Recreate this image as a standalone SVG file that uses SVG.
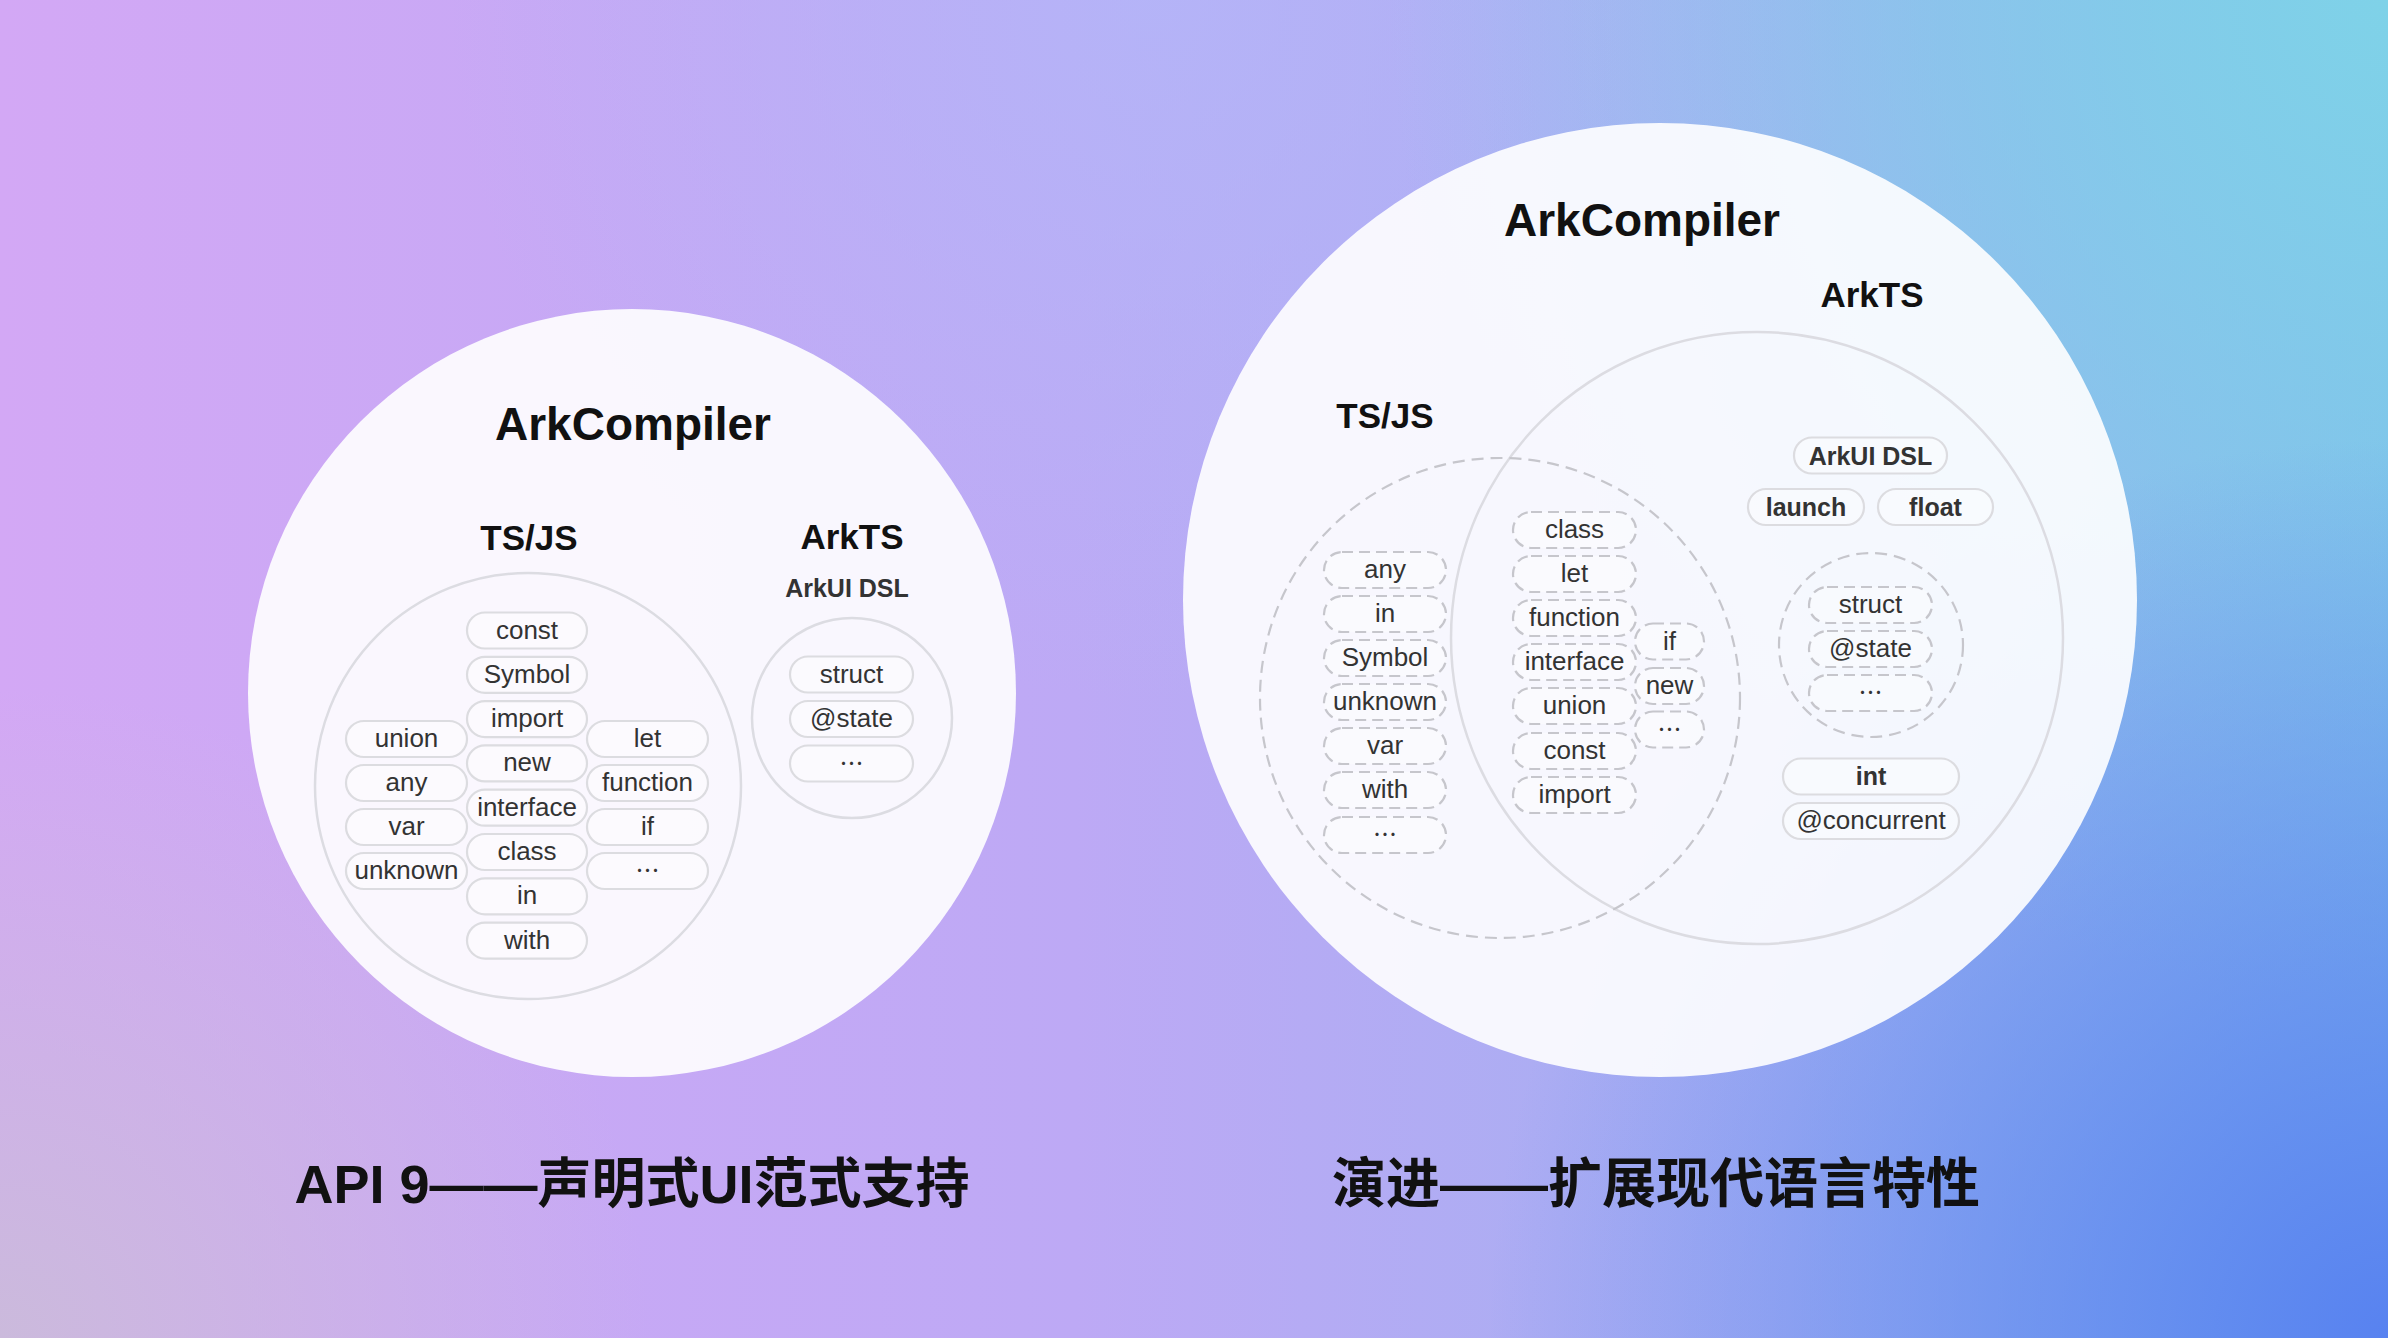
<svg xmlns="http://www.w3.org/2000/svg" width="2388" height="1338" viewBox="0 0 2388 1338">
<defs>
<linearGradient id="bg" x1="0" y1="0" x2="1" y2="0">
<stop offset="0" stop-color="#d3a8f5"/>
<stop offset="0.45" stop-color="#bda9f5"/>
<stop offset="0.75" stop-color="#a4aff2"/>
<stop offset="1" stop-color="#82b8ec"/>
</linearGradient>
<radialGradient id="tr" cx="2388" cy="0" r="1000" gradientUnits="userSpaceOnUse">
<stop offset="0" stop-color="#7fd2e8" stop-opacity="1"/>
<stop offset="1" stop-color="#7fd2e8" stop-opacity="0"/>
</radialGradient>
<radialGradient id="br" cx="2388" cy="1338" r="900" gradientUnits="userSpaceOnUse">
<stop offset="0" stop-color="#5882f0" stop-opacity="1"/>
<stop offset="1" stop-color="#5882f0" stop-opacity="0"/>
</radialGradient>
<radialGradient id="bl" cx="0" cy="1338" r="650" gradientUnits="userSpaceOnUse">
<stop offset="0" stop-color="#cbbadc" stop-opacity="1"/>
<stop offset="1" stop-color="#cbbadc" stop-opacity="0"/>
</radialGradient>
<radialGradient id="tm" cx="1150" cy="0" r="700" gradientUnits="userSpaceOnUse">
<stop offset="0" stop-color="#b3b6f8" stop-opacity="0.8"/>
<stop offset="1" stop-color="#b3b6f8" stop-opacity="0"/>
</radialGradient>
<style>
.big{fill:#ffffff;fill-opacity:0.9}
.ring{fill:none;stroke:#dcdce2;stroke-width:2.5}
.dring{fill:none;stroke:#c6c6cc;stroke-width:2.2;stroke-dasharray:12 7}
.pill{fill:#ffffff;fill-opacity:0.35;stroke:#dcdce0;stroke-width:2.2}
.dpill{fill:#ffffff;fill-opacity:0.35;stroke:#c6c6cc;stroke-width:2.2;stroke-dasharray:11 6}
.t{font-family:"Liberation Sans",Arial,"Noto Sans CJK SC",sans-serif;font-size:26px;fill:#333;text-anchor:middle}
.tb{font-family:"Liberation Sans",Arial,sans-serif;font-size:25px;font-weight:bold;fill:#333;text-anchor:middle}
.dots{font-family:"Noto Sans CJK SC",sans-serif;font-size:24px;fill:#333;text-anchor:middle}
.h1{font-family:"Liberation Sans",Arial,sans-serif;font-size:46px;font-weight:bold;fill:#111;text-anchor:middle}
.h2{font-family:"Liberation Sans",Arial,sans-serif;font-size:35px;font-weight:bold;fill:#111;text-anchor:middle}
.cap{font-family:"Liberation Sans","Noto Sans CJK SC",sans-serif;font-size:54px;font-weight:bold;fill:#111;text-anchor:middle}
</style>
</defs>
<rect width="2388" height="1338" fill="url(#bg)"/>
<rect width="2388" height="1338" fill="url(#tm)"/>
<rect width="2388" height="1338" fill="url(#tr)"/>
<rect width="2388" height="1338" fill="url(#br)"/>
<rect width="2388" height="1338" fill="url(#bl)"/>

<g id="left-diagram">
<circle id="left-arkcompiler" class="big" cx="632" cy="693" r="384"/>
<text class="h1" x="633" y="440">ArkCompiler</text>
<g id="left-tsjs">
<circle class="ring" cx="528" cy="786" r="213"/>
<text class="h2" x="529" y="550">TS/JS</text>
<rect class="pill" x="467" y="612.5" width="120" height="36" rx="18"/><text class="t" x="527" y="638.5">const</text>
<rect class="pill" x="467" y="656.8" width="120" height="36" rx="18"/><text class="t" x="527" y="682.8">Symbol</text>
<rect class="pill" x="467" y="701.1" width="120" height="36" rx="18"/><text class="t" x="527" y="727.1">import</text>
<rect class="pill" x="467" y="745.4" width="120" height="36" rx="18"/><text class="t" x="527" y="771.4">new</text>
<rect class="pill" x="467" y="789.7" width="120" height="36" rx="18"/><text class="t" x="527" y="815.7">interface</text>
<rect class="pill" x="467" y="834" width="120" height="36" rx="18"/><text class="t" x="527" y="860">class</text>
<rect class="pill" x="467" y="878.3" width="120" height="36" rx="18"/><text class="t" x="527" y="904.3">in</text>
<rect class="pill" x="467" y="922.6" width="120" height="36" rx="18"/><text class="t" x="527" y="948.6">with</text>
<rect class="pill" x="346" y="721" width="121" height="36" rx="18"/><text class="t" x="406.5" y="747">union</text>
<rect class="pill" x="346" y="765" width="121" height="36" rx="18"/><text class="t" x="406.5" y="791">any</text>
<rect class="pill" x="346" y="809" width="121" height="36" rx="18"/><text class="t" x="406.5" y="835">var</text>
<rect class="pill" x="346" y="853" width="121" height="36" rx="18"/><text class="t" x="406.5" y="879">unknown</text>
<rect class="pill" x="587" y="721" width="121" height="36" rx="18"/><text class="t" x="647.5" y="747">let</text>
<rect class="pill" x="587" y="765" width="121" height="36" rx="18"/><text class="t" x="647.5" y="791">function</text>
<rect class="pill" x="587" y="809" width="121" height="36" rx="18"/><text class="t" x="647.5" y="835">if</text>
<rect class="pill" x="587" y="853" width="121" height="36" rx="18"/><text class="dots" x="647.5" y="879">…</text>
</g>
<g id="left-arkts">
<text class="h2" x="852" y="549">ArkTS</text>
<text class="tb" x="847" y="597">ArkUI DSL</text>
<circle class="ring" cx="852" cy="718" r="100"/>
<rect class="pill" x="790" y="656.5" width="123" height="36" rx="18"/><text class="t" x="851.5" y="682.5">struct</text>
<rect class="pill" x="790" y="701" width="123" height="36" rx="18"/><text class="t" x="851.5" y="727">@state</text>
<rect class="pill" x="790" y="745.5" width="123" height="36" rx="18"/><text class="dots" x="851.5" y="771.5">…</text>
</g>
</g>

<g id="right-diagram">
<circle id="right-arkcompiler" class="big" cx="1660" cy="600" r="477"/>
<text class="h1" x="1642" y="236">ArkCompiler</text>
<g id="right-arkts">
<circle class="ring" cx="1757" cy="638" r="306"/>
<text class="h2" x="1872" y="307">ArkTS</text>
<rect class="pill" x="1794" y="437.5" width="153" height="36" rx="18"/><text class="tb" x="1870.5" y="465">ArkUI DSL</text>
<rect class="pill" x="1748" y="489" width="116" height="36" rx="18"/><text class="tb" x="1806" y="516">launch</text>
<rect class="pill" x="1878" y="489" width="115" height="36" rx="18"/><text class="tb" x="1935.5" y="516">float</text>
<circle class="dring" cx="1871" cy="645" r="92"/>
<rect class="dpill" x="1809" y="587" width="123" height="36" rx="18"/><text class="t" x="1870.5" y="613">struct</text>
<rect class="dpill" x="1809" y="631" width="123" height="36" rx="18"/><text class="t" x="1870.5" y="657">@state</text>
<rect class="dpill" x="1809" y="675" width="123" height="36" rx="18"/><text class="dots" x="1870.5" y="701">…</text>
<rect class="pill" x="1783" y="758.5" width="176" height="36" rx="18"/><text class="tb" x="1871" y="785">int</text>
<rect class="pill" x="1783" y="803" width="176" height="36" rx="18"/><text class="t" x="1871" y="829">@concurrent</text>
</g>
<g id="right-tsjs">
<circle class="dring" cx="1500" cy="698" r="240"/>
<text class="h2" x="1385" y="428">TS/JS</text>
<rect class="dpill" x="1324" y="552" width="122" height="36" rx="18"/><text class="t" x="1385" y="578">any</text>
<rect class="dpill" x="1324" y="596" width="122" height="36" rx="18"/><text class="t" x="1385" y="622">in</text>
<rect class="dpill" x="1324" y="640" width="122" height="36" rx="18"/><text class="t" x="1385" y="666">Symbol</text>
<rect class="dpill" x="1324" y="684" width="122" height="36" rx="18"/><text class="t" x="1385" y="710">unknown</text>
<rect class="dpill" x="1324" y="728" width="122" height="36" rx="18"/><text class="t" x="1385" y="754">var</text>
<rect class="dpill" x="1324" y="772" width="122" height="36" rx="18"/><text class="t" x="1385" y="798">with</text>
<rect class="dpill" x="1324" y="817" width="122" height="36" rx="18"/><text class="dots" x="1385" y="843">…</text>
</g>
<g id="right-shared">
<rect class="dpill" x="1513" y="512" width="123" height="36" rx="18"/><text class="t" x="1574.5" y="538">class</text>
<rect class="dpill" x="1513" y="556" width="123" height="36" rx="18"/><text class="t" x="1574.5" y="582">let</text>
<rect class="dpill" x="1513" y="600" width="123" height="36" rx="18"/><text class="t" x="1574.5" y="626">function</text>
<rect class="dpill" x="1513" y="644" width="123" height="36" rx="18"/><text class="t" x="1574.5" y="670">interface</text>
<rect class="dpill" x="1513" y="688" width="123" height="36" rx="18"/><text class="t" x="1574.5" y="714">union</text>
<rect class="dpill" x="1513" y="733" width="123" height="36" rx="18"/><text class="t" x="1574.5" y="759">const</text>
<rect class="dpill" x="1513" y="777" width="123" height="36" rx="18"/><text class="t" x="1574.5" y="803">import</text>
<rect class="dpill" x="1635" y="623.5" width="69" height="36" rx="18"/><text class="t" x="1669.5" y="649.5">if</text>
<rect class="dpill" x="1635" y="668" width="69" height="36" rx="18"/><text class="t" x="1669.5" y="694">new</text>
<rect class="dpill" x="1635" y="711.5" width="69" height="36" rx="18"/><text class="dots" x="1669.5" y="737.5">…</text>
</g>
</g>

<g id="captions">
<text class="cap" x="632" y="1203">API 9——声明式UI范式支持</text>
<text class="cap" x="1656" y="1203">演进——扩展现代语言特性</text>
</g>
</svg>
